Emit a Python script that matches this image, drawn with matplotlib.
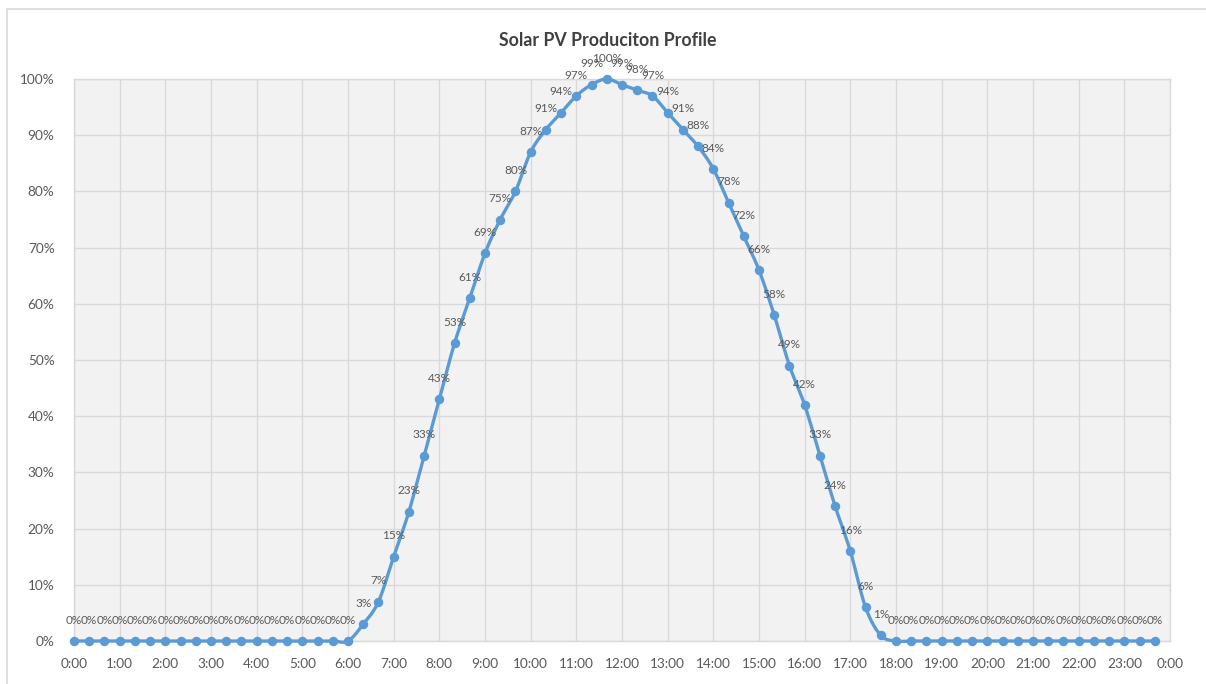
import matplotlib
matplotlib.use("Agg")
import matplotlib.pyplot as plt
import numpy as np
from matplotlib.patches import Rectangle

# ---- data ----
title = "Solar PV Produciton Profile"
# times in minutes, every 20 minutes from 0:00 to 23:40
minutes = list(range(0, 24 * 60, 20))
values = ([0] * 19 +
          [3, 7, 15, 23, 33, 43, 53, 61, 69, 75, 80, 87, 91, 94, 97, 99, 100,
           99, 98, 97, 94, 91, 88, 84, 78, 72, 66, 58, 49, 42, 33, 24, 16, 6, 1] +
          [0] * 18)
hour_ticks = list(range(0, 25))
hour_labels = [f"{h % 24}:00" for h in hour_ticks]
y_ticks = list(range(0, 101, 10))
y_labels = [f"{v}%" for v in y_ticks]

x = np.array(minutes) / 60.0
y = np.array(values, dtype=float)

# Excel-like smoothed line (cubic Bezier with Catmull-Rom tangents)
def smooth(xs, ys, n=20):
    P = np.column_stack([xs, ys])
    out = []
    for i in range(len(P) - 1):
        p0 = P[i - 1] if i > 0 else P[i]
        p1 = P[i]
        p2 = P[i + 1]
        p3 = P[i + 2] if i + 2 < len(P) else P[i + 1]
        c1 = p1 + (p2 - p0) / 6.0
        c2 = p2 - (p3 - p1) / 6.0
        t = np.linspace(0, 1, n, endpoint=(i == len(P) - 2))[:, None]
        seg = ((1 - t) ** 3) * p1 + 3 * ((1 - t) ** 2) * t * c1 + 3 * (1 - t) * t ** 2 * c2 + t ** 3 * p2
        out.append(seg)
    S = np.vstack(out)
    return S[:, 0], S[:, 1]

W, H = 1206, 684
fig = plt.figure(figsize=(W / 100, H / 100), dpi=100)
fig.patch.set_facecolor("white")

# outer chart border
fig.add_artist(Rectangle((7 / W, -0.05), 1.2, 1 - 9 / H + 0.05, transform=fig.transFigure,
                         fill=False, edgecolor="#d9d9d9", linewidth=1.2))

ax = fig.add_axes([74 / W, 1 - 641 / H, (1170 - 74) / W, (641 - 79) / H])
ax.set_facecolor("#f2f2f2")
ax.set_xlim(0, 24)
ax.set_ylim(0, 100)
ax.set_xticks(hour_ticks)
ax.set_xticklabels(hour_labels)
ax.set_yticks(y_ticks)
ax.set_yticklabels(y_labels)
ax.grid(True, color="#d9d9d9", linewidth=1.0)
ax.set_axisbelow(True)
for s in ax.spines.values():
    s.set_color("#d9d9d9")
    s.set_linewidth(1.0)
ax.tick_params(length=0, colors="#595959", labelsize=9.8)
ax.tick_params(axis="y", pad=14)
ax.tick_params(axis="x", pad=12)
for lab in ax.get_xticklabels() + ax.get_yticklabels():
    lab.set_fontfamily("Lato")

sx, sy = smooth(x, y)
ax.plot(sx, sy, color="#5b9bd5", linewidth=2.4, clip_on=False, zorder=3)
ax.plot(x, y, linestyle="none", marker="o", markersize=5.8, color="#5b9bd5",
        clip_on=False, zorder=4)

for xi, yi in zip(x, y):
    ax.annotate(f"{int(yi)}%", (xi, yi), xytext=(0, 15), textcoords="offset points",
                ha="center", va="center", fontsize=8.5, color="#595959",
                fontfamily="Lato", annotation_clip=False, zorder=5)

fig.text(608 / W, 1 - 40 / H, title, ha="center", va="center", fontsize=12.8,
         fontweight="bold", color="#404040", fontfamily="Lato")

fig.savefig("out.png", dpi=100)
